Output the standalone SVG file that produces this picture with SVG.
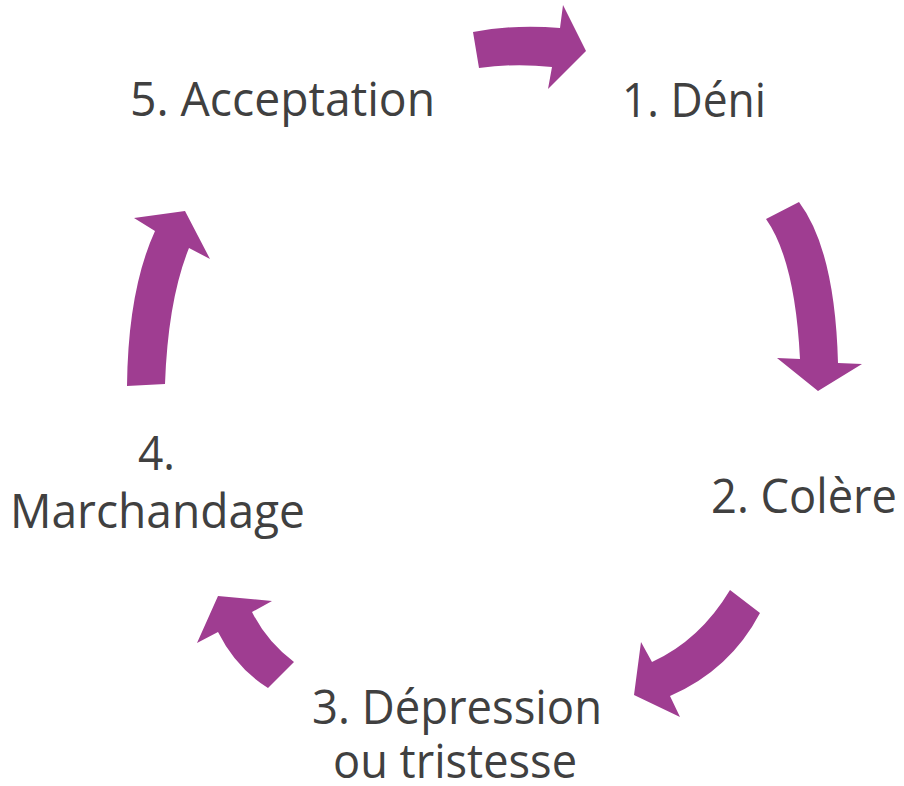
<svg xmlns="http://www.w3.org/2000/svg" width="904" height="786" viewBox="0 0 904 786">
<style>
.lbl{font-family:"Open Sans","Noto Sans","Liberation Sans",sans-serif;font-size:48px;fill:#404040}
.arr{fill:#9F3D91}
</style>
<rect width="904" height="786" fill="#ffffff"/>
<g id="connectors">
<path class="arr" d="M473,32 Q515,24 560,28 L563,5 L586,51 L548,89 L552,67 Q515,63 479,68 Z"/>
<path class="arr" d="M799,202 Q835,250 838,363 L862,364 L818,391 L777,358 L800,359 Q795,260 766,219 Z"/>
<path class="arr" d="M760,613 Q730,670 670,696 L680,717 L634,695 L641,642 L652,662 Q700,640 730,590 Z"/>
<path class="arr" d="M294,662 Q267,642 252,612 L272,601 L218,596 L197,643 L218,632 Q236,668 268,688 Z"/>
<path class="arr" d="M127,386 Q128,290 155,231 L134,218 L185,211 L210,259 L189,248 Q168,300 165,384 Z"/>
</g>
<g id="node1"><text class="lbl" x="622" y="117" textLength="144" lengthAdjust="spacingAndGlyphs">1. Déni</text></g>
<g id="node2"><text class="lbl" x="711" y="513" textLength="186" lengthAdjust="spacingAndGlyphs">2. Colère</text></g>
<g id="node3">
<text class="lbl" x="312" y="724" textLength="290" lengthAdjust="spacingAndGlyphs">3. Dépression</text>
<text class="lbl" x="333" y="778" textLength="244" lengthAdjust="spacingAndGlyphs">ou tristesse</text>
</g>
<g id="node4">
<text class="lbl" x="138" y="470" textLength="37" lengthAdjust="spacingAndGlyphs">4.</text>
<text class="lbl" x="10" y="528" textLength="295" lengthAdjust="spacingAndGlyphs">Marchandage</text>
</g>
<g id="node5"><text class="lbl" x="130" y="116" textLength="305" lengthAdjust="spacingAndGlyphs">5. Acceptation</text></g>
</svg>
